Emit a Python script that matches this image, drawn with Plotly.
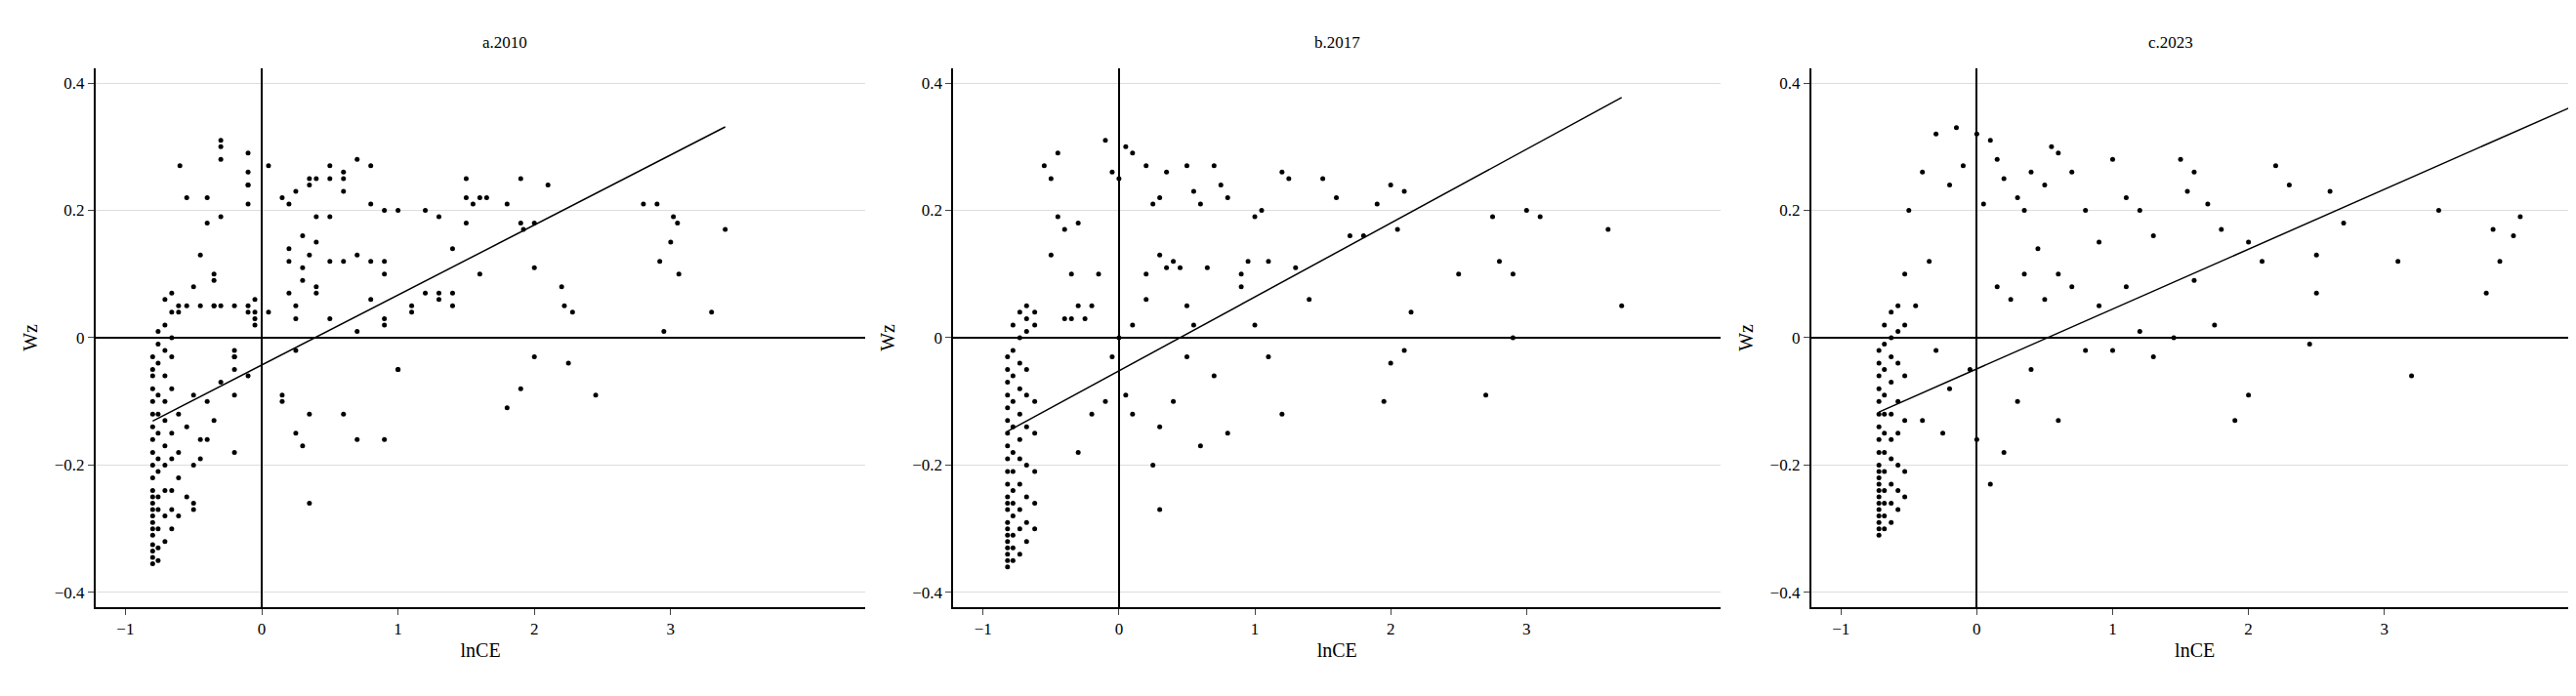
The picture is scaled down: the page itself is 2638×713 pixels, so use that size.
import plotly.graph_objects as go

titles = ['a.2010', 'b.2017', 'c.2023']

# dense left columns: (x, list of y)
colsA = [(-0.80, [-0.355, -0.345, -0.335, -0.325, -0.31, -0.30, -0.29, -0.28, -0.27, -0.26, -0.25, -0.24, -0.22, -0.20, -0.18, -0.16, -0.14, -0.12, -0.10, -0.08, -0.06, -0.05, -0.03]),
         (-0.76, [-0.35, -0.33, -0.30, -0.27, -0.25, -0.21, -0.19, -0.15, -0.12, -0.09, -0.04, -0.01, 0.01]),
         (-0.71, [-0.32, -0.28, -0.24, -0.20, -0.17, -0.13, -0.10, -0.06, -0.02, 0.02, 0.06]),
         (-0.66, [-0.30, -0.27, -0.24, -0.19, -0.15, -0.08, -0.03, 0.0, 0.04, 0.07]),
         (-0.61, [-0.28, -0.22, -0.18, -0.12, 0.04, 0.05])]
xA = [-0.6, -0.55, -0.55, -0.55, -0.55, -0.5, -0.5, -0.5, -0.5, -0.5, -0.45, -0.45, -0.45, -0.45, -0.4, -0.4, -0.4, -0.4,
      -0.35, -0.35, -0.35, -0.35, -0.35, -0.3, -0.3, -0.3, -0.3, -0.3, -0.3, -0.2, -0.2, -0.2, -0.2, -0.2, -0.2, -0.2,
      -0.1, -0.1, -0.1, -0.1, -0.1, -0.1, -0.1, -0.1, -0.05, -0.05, -0.05, -0.05, 0.05, 0.05, 0.15, 0.15, 0.15,
      0.2, 0.2, 0.2, 0.2, 0.25, 0.25, 0.25, 0.25, 0.25, 0.3, 0.3, 0.3, 0.3, 0.35, 0.35, 0.35, 0.35, 0.35,
      0.4, 0.4, 0.4, 0.4, 0.4, 0.5, 0.5, 0.5, 0.5, 0.5, 0.6, 0.6, 0.6, 0.6, 0.6, 0.7, 0.7, 0.7, 0.7,
      0.8, 0.8, 0.8, 0.8, 0.9, 0.9, 0.9, 0.9, 0.9, 0.9, 1.0, 1.0, 1.0, 1.1, 1.1, 1.2, 1.2, 1.3, 1.3, 1.3,
      1.4, 1.4, 1.4, 1.5, 1.5, 1.5, 1.55, 1.6, 1.6, 1.65, 1.8, 1.8, 1.9, 1.9, 1.92, 1.9, 2.0, 2.0, 2.0, 2.1,
      2.2, 2.22, 2.25, 2.28, 2.45, 2.8, 2.9, 2.92, 2.95, 3.0, 3.02, 3.05, 3.06, 3.3, 3.4]
yA = [0.27, 0.22, -0.25, -0.14, 0.05, -0.27, -0.26, -0.20, -0.09, 0.08, 0.13, -0.19, -0.16, 0.05, 0.22, 0.18, -0.16, -0.10,
      0.10, 0.09, -0.13, 0.05, 0.05, 0.31, 0.30, 0.28, 0.19, -0.07, 0.05, -0.02, -0.03, -0.05, -0.03, -0.09, -0.18, 0.05,
      0.29, 0.26, 0.24, 0.24, 0.21, 0.05, 0.04, -0.06, 0.03, 0.06, 0.02, 0.04, 0.27, 0.04, 0.22, -0.09, -0.10,
      0.07, 0.14, 0.12, 0.21, 0.23, 0.05, 0.03, -0.15, -0.02, 0.09, 0.16, 0.11, -0.17, 0.25, 0.24, 0.13, -0.26, -0.12,
      0.25, 0.19, 0.15, 0.08, 0.07, 0.25, 0.27, 0.19, 0.12, 0.03, 0.25, 0.26, 0.23, 0.12, -0.12, 0.28, 0.13, 0.01, -0.16,
      0.27, 0.21, 0.06, 0.12, 0.20, 0.12, 0.10, -0.16, 0.03, 0.02, 0.20, -0.05, -0.05, 0.04, 0.05, 0.20, 0.07, 0.19, 0.07, 0.06,
      0.14, 0.05, 0.07, 0.22, 0.18, 0.25, 0.21, 0.22, 0.10, 0.22, 0.21, -0.11, 0.25, 0.18, 0.17, -0.08, 0.18, 0.11, -0.03, 0.24,
      0.08, 0.05, -0.04, 0.04, -0.09, 0.21, 0.21, 0.12, 0.01, 0.15, 0.19, 0.18, 0.10, 0.04, 0.17]

colsB = [(-0.82, [-0.36, -0.35, -0.34, -0.33, -0.32, -0.31, -0.30, -0.29, -0.27, -0.26, -0.25, -0.23, -0.21, -0.19, -0.17, -0.15, -0.13, -0.11, -0.09, -0.07, -0.05, -0.03]),
         (-0.78, [-0.35, -0.33, -0.31, -0.28, -0.26, -0.24, -0.21, -0.18, -0.14, -0.10, -0.06, -0.02, 0.02]),
         (-0.73, [-0.34, -0.30, -0.27, -0.23, -0.19, -0.16, -0.12, -0.08, -0.04, 0.0, 0.04]),
         (-0.68, [-0.32, -0.29, -0.25, -0.20, -0.14, -0.09, -0.05, 0.01, 0.03, 0.05]),
         (-0.62, [-0.30, -0.26, -0.21, -0.15, -0.10, 0.02, 0.04])]
xB = [-0.55, -0.5, -0.5, -0.45, -0.45, -0.4, -0.4, -0.35, -0.35, -0.3, -0.3, -0.3, -0.25, -0.2, -0.2, -0.15, -0.1, -0.1,
      -0.05, -0.05, 0.0, 0.0, 0.05, 0.05, 0.1, 0.1, 0.1, 0.2, 0.2, 0.2, 0.25, 0.25, 0.3, 0.3, 0.3, 0.3, 0.35, 0.35, 0.4, 0.4,
      0.45, 0.5, 0.5, 0.5, 0.55, 0.55, 0.6, 0.6, 0.65, 0.7, 0.7, 0.75, 0.8, 0.8, 0.9, 0.9, 0.95, 1.0, 1.0, 1.05, 1.1, 1.1,
      1.2, 1.2, 1.25, 1.3, 1.4, 1.5, 1.6, 1.7, 1.8, 1.9, 1.95, 2.0, 2.0, 2.05, 2.1, 2.1, 2.15, 2.5, 2.7, 2.75, 2.8, 2.9,
      2.9, 3.0, 3.1, 3.6, 3.7]
yB = [0.27, 0.13, 0.25, 0.29, 0.19, 0.17, 0.03, 0.03, 0.10, -0.18, 0.18, 0.05, 0.03, -0.12, 0.05, 0.10, 0.31, -0.10,
      0.26, -0.03, 0.25, 0.0, 0.30, -0.09, 0.29, -0.12, 0.02, 0.27, 0.10, 0.06, 0.21, -0.20, 0.22, 0.13, -0.27, -0.14, 0.26, 0.11, 0.12, -0.10,
      0.11, 0.27, 0.05, -0.03, 0.23, 0.02, 0.21, -0.17, 0.11, 0.27, -0.06, 0.24, 0.22, -0.15, 0.10, 0.08, 0.12, 0.19, 0.02, 0.20, 0.12, -0.03,
      0.26, -0.12, 0.25, 0.11, 0.06, 0.25, 0.22, 0.16, 0.16, 0.21, -0.10, 0.24, -0.04, 0.17, 0.23, -0.02, 0.04, 0.10, -0.09, 0.19, 0.12, 0.10,
      0.0, 0.20, 0.19, 0.17, 0.05]

colsC = [(-0.72, [-0.31, -0.30, -0.29, -0.28, -0.27, -0.26, -0.25, -0.24, -0.23, -0.22, -0.21, -0.20, -0.18, -0.16, -0.14, -0.12, -0.10, -0.08, -0.06, -0.04, -0.02]),
         (-0.68, [-0.30, -0.28, -0.26, -0.24, -0.21, -0.18, -0.15, -0.12, -0.09, -0.05, -0.01, 0.02]),
         (-0.63, [-0.29, -0.26, -0.23, -0.19, -0.16, -0.12, -0.07, -0.03, 0.0, 0.04]),
         (-0.58, [-0.27, -0.24, -0.20, -0.15, -0.10, -0.04, 0.01, 0.05]),
         (-0.53, [-0.25, -0.21, -0.13, -0.06, 0.02, 0.10])]
xC = [-0.5, -0.45, -0.4, -0.4, -0.35, -0.3, -0.3, -0.25, -0.2, -0.2, -0.15, -0.1, -0.05, 0.0, 0.0, 0.05, 0.1, 0.1, 0.15, 0.15,
      0.2, 0.2, 0.25, 0.3, 0.3, 0.35, 0.35, 0.4, 0.4, 0.45, 0.5, 0.5, 0.55, 0.6, 0.6, 0.6, 0.7, 0.7, 0.8, 0.8, 0.9, 0.9, 1.0, 1.0,
      1.1, 1.1, 1.2, 1.2, 1.3, 1.3, 1.45, 1.5, 1.55, 1.6, 1.6, 1.7, 1.75, 1.8, 1.9, 2.0, 2.0, 2.1, 2.2, 2.3, 2.45, 2.5, 2.5,
      2.6, 2.7, 3.1, 3.2, 3.4, 3.75, 3.8, 3.85, 3.95, 4.0, 4.45]
yC = [0.20, 0.05, 0.26, -0.13, 0.12, 0.32, -0.02, -0.15, 0.24, -0.08, 0.33, 0.27, -0.05, 0.32, -0.16, 0.21, 0.31, -0.23, 0.28, 0.08,
      0.25, -0.18, 0.06, 0.22, -0.10, 0.20, 0.10, 0.26, -0.05, 0.14, 0.24, 0.06, 0.30, 0.29, -0.13, 0.10, 0.26, 0.08, 0.20, -0.02, 0.15, 0.05, 0.28, -0.02,
      0.22, 0.08, 0.20, 0.01, 0.16, -0.03, 0.0, 0.28, 0.23, 0.26, 0.09, 0.21, 0.02, 0.17, -0.13, 0.15, -0.09, 0.12, 0.27, 0.24, -0.01, 0.13, 0.07,
      0.23, 0.18, 0.12, -0.06, 0.20, 0.07, 0.17, 0.12, 0.16, 0.19, 0.07]

slopes = [0.110, 0.116, 0.094]
intercepts = [-0.043, -0.052, -0.049]


def expand(cols, xs, ys):
    x, y = [], []
    for cx, vals in cols:
        x += [cx] * len(vals)
        y += vals
    return x + xs, y + ys


panels = [expand(colsA, xA, yA), expand(colsB, xB, yB), expand(colsC, xC, yC)]
xdom = [(0.034, 0.333), (0.367, 0.665), (0.700, 0.998)]
font = 'Liberation Serif'

fig = go.Figure()
layout = dict(width=2638, height=713, margin=dict(l=0, r=0, t=0, b=0),
              paper_bgcolor='white', plot_bgcolor='white', showlegend=False,
              font=dict(family=font, size=17, color='black'))
for i, (px, py) in enumerate(panels):
    n = '' if i == 0 else str(i + 1)
    fig.add_trace(go.Scatter(x=px, y=py, mode='markers', xaxis='x' + n, yaxis='y' + n,
                             marker=dict(size=5, color='black')))
    lx = [min(px), max(px)]
    fig.add_trace(go.Scatter(x=lx, y=[slopes[i] * v + intercepts[i] for v in lx], mode='lines',
                             xaxis='x' + n, yaxis='y' + n, line=dict(color='black', width=1.5)))
    layout['xaxis' + n] = dict(domain=xdom[i], range=[-1.22, 4.43], anchor='y' + n,
                               tickvals=[-1, 0, 1, 2, 3], ticktext=['−1', '0', '1', '2', '3'],
                               ticks='outside', ticklen=6,
                               showgrid=False, zeroline=True, zerolinecolor='black', zerolinewidth=1.5,
                               showline=True, linecolor='black', linewidth=1.5,
                               title=dict(text='lnCE', standoff=6))
    layout['yaxis' + n] = dict(domain=[0.139, 0.913], range=[-0.423, 0.423], anchor='x' + n,
                               tickvals=[-0.4, -0.2, 0, 0.2, 0.4], ticktext=['−0.4', '−0.2', '0', '0.2', '0.4'],
                               ticks='outside', ticklen=6,
                               showgrid=True, gridcolor='#dddddd', zeroline=True, zerolinecolor='black',
                               zerolinewidth=1.5, showline=True, linecolor='black', linewidth=1.5,
                               title=dict(text='Wz', standoff=12))
    fig.add_annotation(text=titles[i], x=(xdom[i][0] + xdom[i][1]) / 2, y=0.934, xref='paper', yref='paper',
                       showarrow=False, yanchor='bottom', font=dict(size=17))
fig.update_layout(**layout)
fig.write_html("out.html")
